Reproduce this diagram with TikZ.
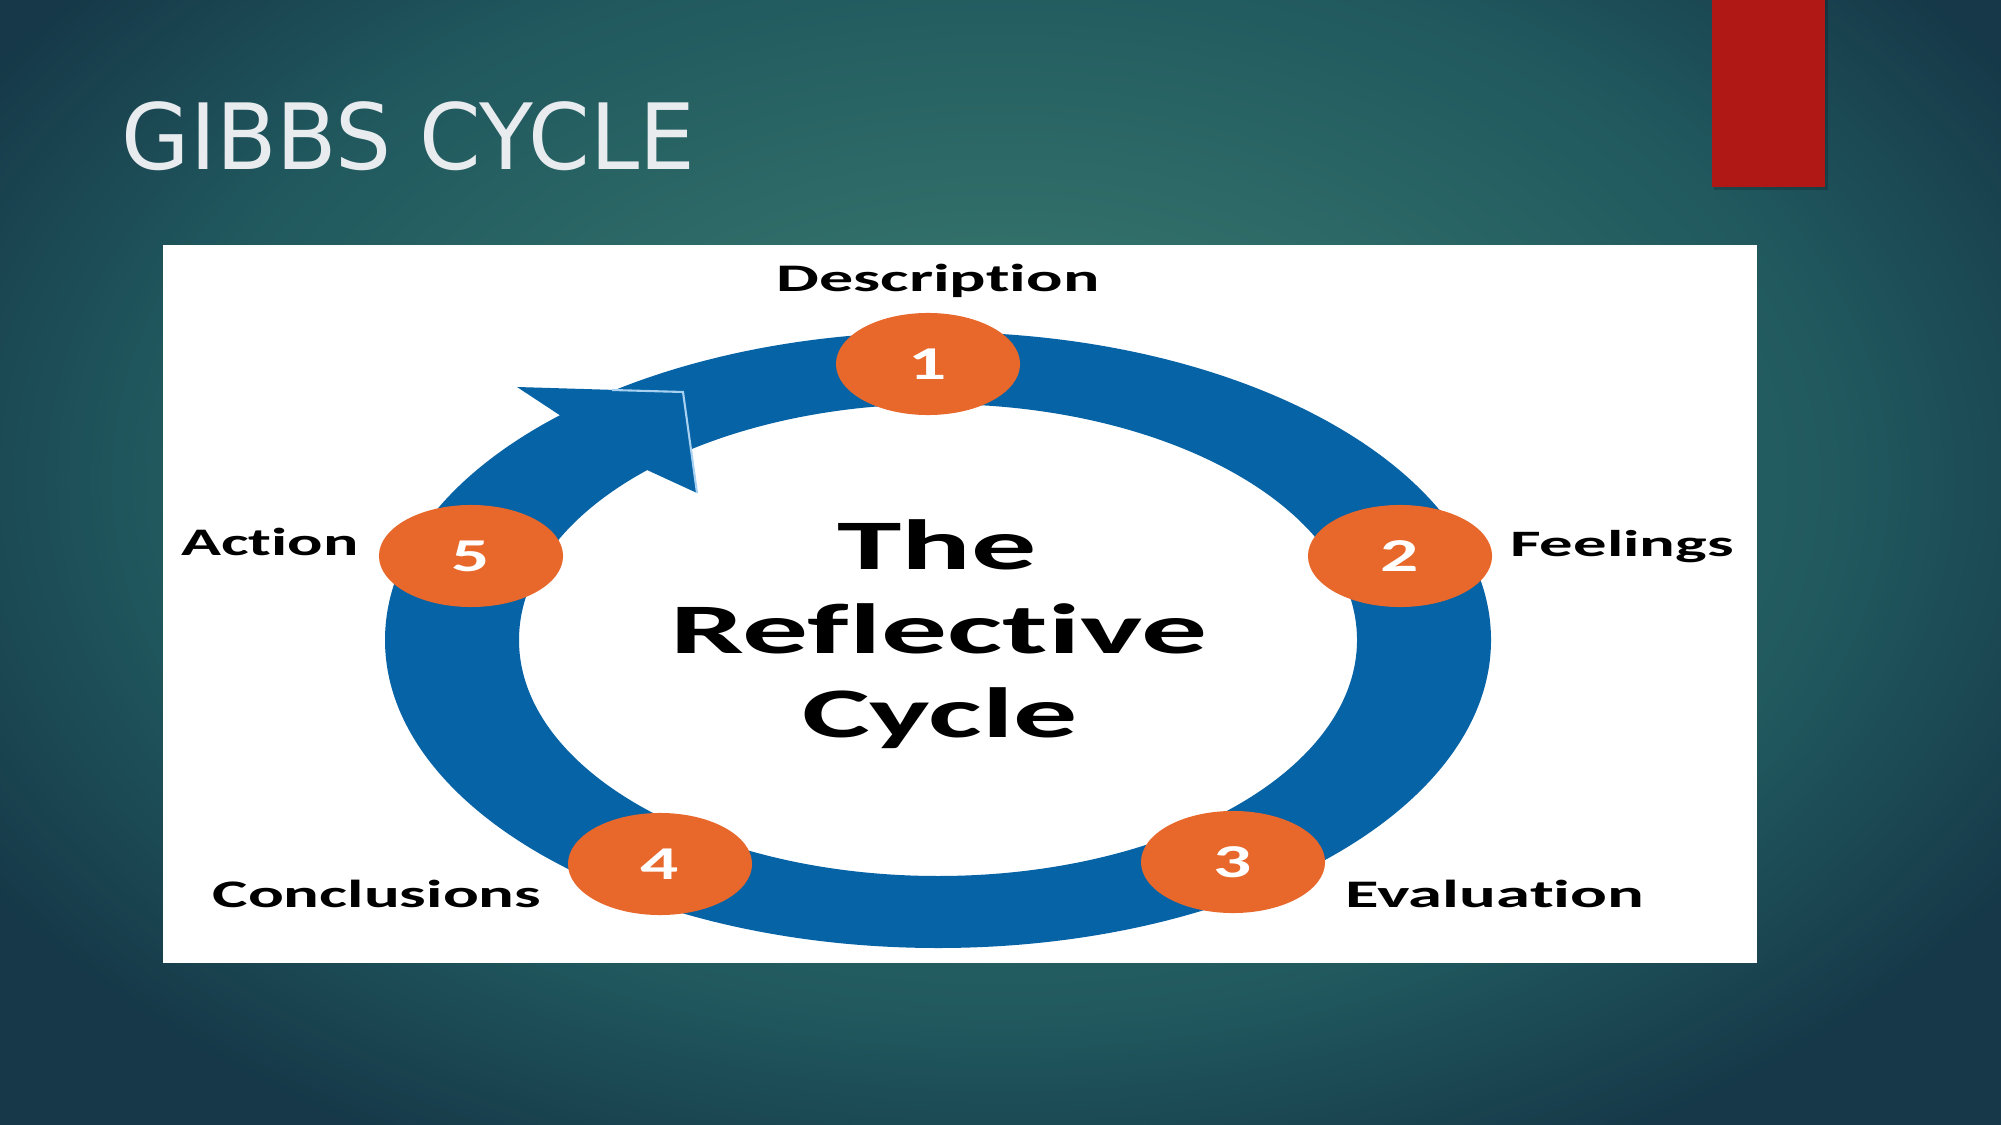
\documentclass[tikz,border=0pt]{standalone}
\usepackage{fontspec}
\setmainfont{Carlito}[Ligatures={NoCommon,NoContextual}]
\newfontfamily\ttlfont{DejaVu Sans}
\usetikzlibrary{shapes.geometric}
\definecolor{bgin}{HTML}{32706A}
\definecolor{bgmid}{HTML}{20585E}
\definecolor{bgout}{HTML}{163848}
\definecolor{ringblue}{HTML}{0563A6}
\definecolor{dotorange}{HTML}{E8672A}
\definecolor{redbar}{HTML}{B01815}
\definecolor{titlegray}{HTML}{E8ECEF}
\definecolor{hilite}{HTML}{A8D0F0}
\pgfdeclareradialshading{bgshade}{\pgfpoint{0bp}{0bp}}{color(0bp)=(bgin); color(7bp)=(bgin); color(17bp)=(bgmid); color(24bp)=(bgout); color(50bp)=(bgout)}
\newcommand\sx[3]{\scalebox{#1}[1]{\fontsize{#2}{#2}\selectfont #3}}
\begin{document}
\begin{tikzpicture}[x=0.01cm,y=-0.01cm,
  lbl/.style={inner sep=0pt, anchor=base, text=black, font=\bfseries},
  num/.style={ellipse, fill=dotorange, minimum width=1.84cm, minimum height=1.02cm, inner sep=0pt, text=white, font=\bfseries},
]
\useasboundingbox (0,0) rectangle (2001,1125);
\fill[bgout] (0,0) rectangle (2001,1125);
\begin{scope}
\clip (0,0) rectangle (2001,1125);
\shade[shading=bgshade] (1000,480) ellipse (1250 and 800);
\end{scope}
% red bar
\fill[black,opacity=0.18] (1714,0) rectangle (1828,190);
\fill[redbar] (1712,0) rectangle (1825,187);
% title
\node[anchor=base west, inner sep=0pt, text=titlegray] (title) at (121,170) {\ttlfont\sx{0.965}{26pt}{GIBBS CYCLE}};
% white panel
\fill[white] (163,245) rectangle (1757,963);
% ring
\fill[ringblue, even odd rule] (938,640) ellipse (553 and 308) (938,640) ellipse (419 and 236);
% arrow head
\fill[ringblue] (517,387) -- (683,392) -- (697,493) -- (647,470) -- (558,414) -- cycle;
\draw[hilite, line width=0.6pt, line join=miter] (612,390) -- (683,392) -- (697,493);
% numbered dots
\node[num] (n1) at (928,364) {\sx{1.6}{13.4pt}{1}};
\node[num] (n2) at (1400,556) {\sx{1.6}{13.4pt}{2}};
\node[num] (n3) at (1233,862) {\sx{1.6}{13.4pt}{3}};
\node[num] (n4) at (660,864) {\sx{1.6}{13.4pt}{4}};
\node[num] (n5) at (471,556) {\sx{1.6}{13.4pt}{5}};
% labels
\node[lbl] (desc) at (938,292) {\sx{1.74}{11.1pt}{Description}};
\node[lbl] (feel) at (1622,557) {\sx{1.79}{10.6pt}{Feelings}};
\node[lbl] (eval) at (1495,907) {\sx{1.76}{11.1pt}{Evaluation}};
\node[lbl] (concl) at (377,907) {\sx{1.71}{11.1pt}{Conclusions}};
\node[lbl] (act) at (270,555) {\sx{1.69}{11.1pt}{Action}};
% centre title
\node[lbl] (t1) at (937,570) {\sx{1.83}{20.2pt}{The}};
\node[lbl] (t2) at (939,653) {\sx{1.85}{20.2pt}{Reflective}};
\node[lbl] (t3) at (940,737) {\sx{1.8}{20.2pt}{Cycle}};
\end{tikzpicture}
\end{document}
